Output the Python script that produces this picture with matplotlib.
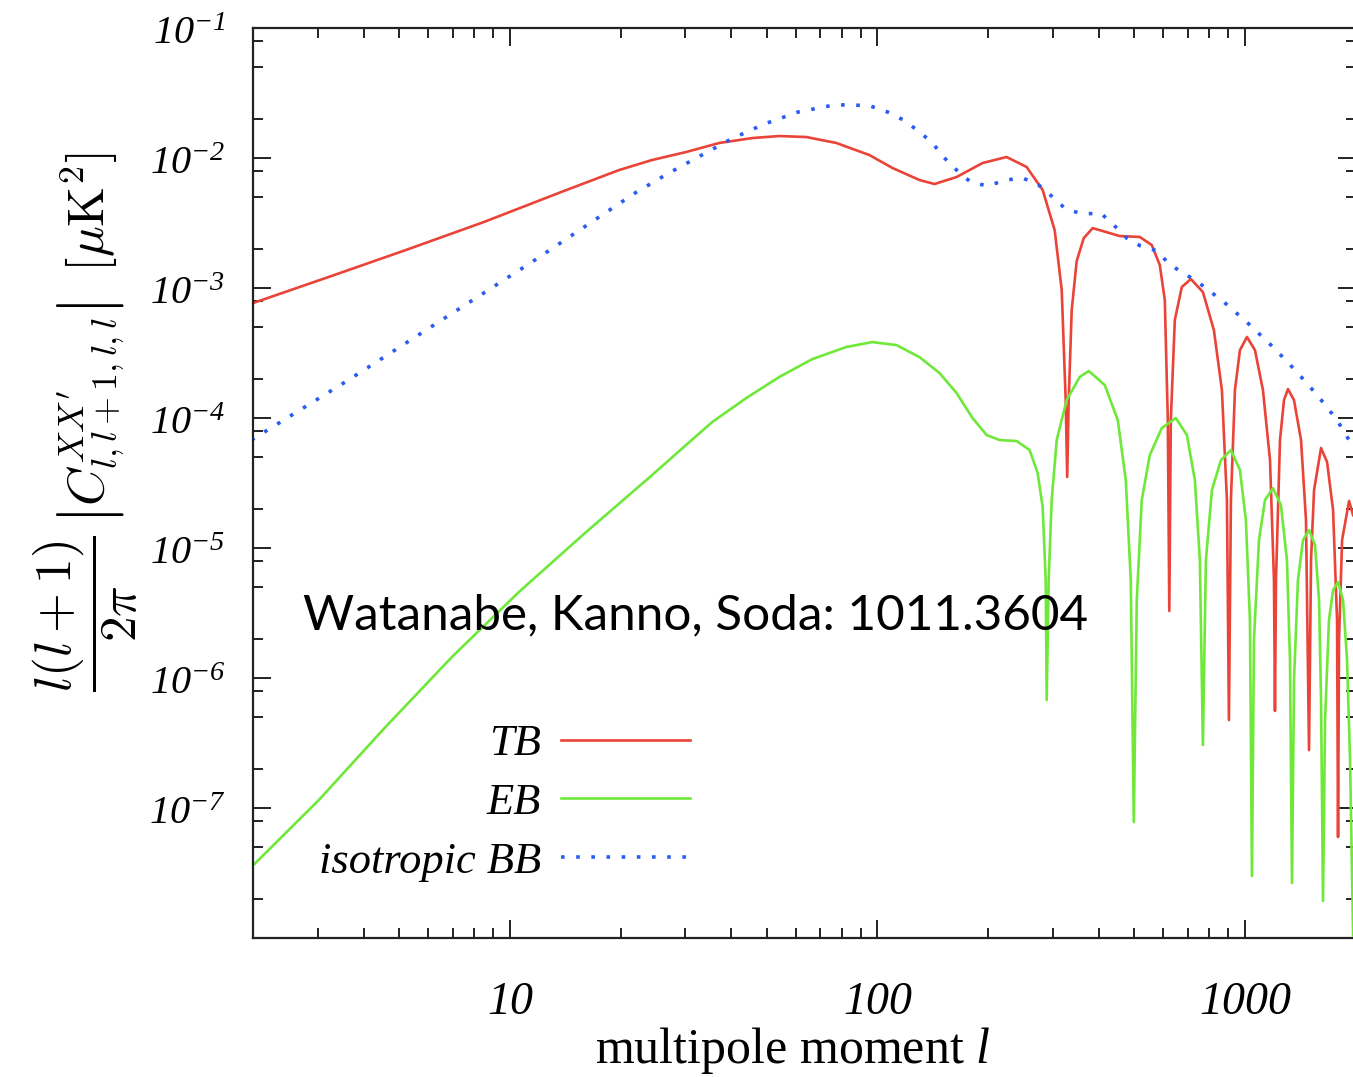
import matplotlib
matplotlib.use('Agg')
import numpy as np
import matplotlib.pyplot as plt
from matplotlib.ticker import FixedLocator, FixedFormatter, LogLocator, NullFormatter

plt.rcParams['mathtext.fontset'] = 'custom'
plt.rcParams['mathtext.rm'] = 'Liberation Serif:italic'
plt.rcParams['mathtext.it'] = 'Liberation Serif:italic'

# TB correlation (multipole l, value in muK^2)
tb_l = [2.0, 3.21, 5.21, 8.50, 13.8, 19.82, 24.37, 30.17, 37.11, 45.64, 54.08, 64.05,
        77.32, 95.1, 109.9, 130.2, 143.0, 164.2, 193.2, 224.6, 254.7, 281.6, 303.6,
        317.3, 325.3, 328.4, 331.5, 337.8, 348.5, 364.2, 385.3, 418.2, 456.4, 517.5,
        557.9, 586.6, 605.3, 616.8, 622.6, 628.5, 644.5, 673.4, 712.6, 768.5, 823.2,
        865.6, 893.3, 904.5, 915.9, 939.3, 969.2, 1012.7, 1064.8, 1119.5, 1170,
        1199.5, 1207, 1214.7, 1245.6, 1277.3, 1309.7, 1359.8, 1421, 1466, 1494, 1513,
        1542, 1611, 1673, 1737, 1781, 1792, 1803, 1838, 1920, 1969]
tb_val = [7.66e-4, 1.215e-3, 1.96e-3, 3.22e-3, 5.48e-3, 8.08e-3, 9.65e-3, 1.112e-2,
          1.305e-2, 1.424e-2, 1.476e-2, 1.45e-2, 1.305e-2, 1.054e-2, 8.38e-3, 6.77e-3,
          6.31e-3, 7.14e-3, 9.15e-3, 1.018e-2, 8.53e-3, 5.67e-3, 2.79e-3, 9.65e-4,
          1.375e-4, 3.52e-5, 1.375e-4, 6.77e-4, 1.613e-3, 2.42e-3, 2.89e-3, 2.70e-3,
          2.51e-3, 2.47e-3, 2.14e-3, 1.503e-3, 8.08e-4, 9.65e-5, 3.28e-6, 9.65e-5,
          5.67e-4, 1.018e-3, 1.173e-3, 9.31e-4, 4.75e-4, 1.641e-4, 2.34e-5, 4.75e-7,
          2.34e-5, 1.641e-4, 3.33e-4, 4.20e-4, 3.33e-4, 1.641e-4, 4.75e-5, 5.67e-6,
          5.58e-7, 5.67e-6, 6.77e-5, 1.375e-4, 1.671e-4, 1.375e-4, 6.77e-5, 1.641e-5,
          2.79e-7, 8.08e-6, 2.79e-5, 5.88e-5, 4.59e-5, 1.96e-5, 2.79e-6, 5.98e-8,
          1.96e-6, 1.152e-5, 2.30e-5, 1.79e-5]

# EB correlation
eb_l = [1.98, 3.02, 4.56, 6.95, 10.58, 16.01, 24.37, 28.88, 35.52, 43.97, 54.08,
        66.52, 82.33, 96.9, 112.7, 130.2, 147.5, 164.2, 181.5, 198.2, 215.0, 239.2,
        259.5, 272.9, 281.6, 287.0, 288.8, 292.4, 298.0, 307.5, 327.3, 355.2, 375.8,
        415.5, 450.8, 474.0, 489.1, 498.4, 507.8, 523.9, 551.0, 594.0, 648.6, 695.0,
        730.8, 754.0, 768.5, 783.1, 813.1, 860.6, 915.9, 969.2, 1006, 1031.8, 1044.9,
        1058, 1092, 1134, 1192, 1253, 1301, 1326, 1343, 1360, 1394, 1439, 1494, 1551,
        1591, 1611, 1631, 1652, 1693, 1737, 1792, 1849, 1896, 1932, 1969]
eb_val = [3.52e-8, 1.152e-7, 4.13e-7, 1.45e-6, 4.59e-6, 1.305e-5, 3.64e-5, 5.57e-5,
          9.31e-5, 1.424e-4, 2.07e-4, 2.84e-4, 3.52e-4, 3.84e-4, 3.64e-4, 2.94e-4,
          2.22e-4, 1.557e-4, 1.0e-4, 7.40e-5, 6.77e-5, 6.65e-5, 5.67e-5, 3.77e-5,
          2.07e-5, 5.67e-6, 6.77e-7, 5.67e-6, 2.34e-5, 6.77e-5, 1.375e-4, 2.07e-4,
          2.30e-4, 1.794e-4, 9.65e-5, 3.33e-5, 5.67e-6, 7.80e-8, 3.98e-6, 2.34e-5,
          5.19e-5, 8.38e-5, 1.0e-4, 7.40e-5, 3.33e-5, 8.08e-6, 3.05e-7, 8.08e-6,
          2.79e-5, 4.75e-5, 5.67e-5, 3.98e-5, 1.641e-5, 2.79e-6, 3.0e-8, 1.96e-6,
          1.152e-5, 2.34e-5, 2.89e-5, 2.14e-5, 8.08e-6, 1.375e-6, 2.65e-8, 9.65e-7,
          5.67e-6, 1.152e-5, 1.375e-5, 1.054e-5, 3.98e-6, 6.77e-7, 1.93e-8, 4.75e-7,
          2.79e-6, 4.75e-6, 5.48e-6, 3.98e-6, 1.375e-6, 2.34e-7, 1.05e-8]

# isotropic BB
bb_l = [1.98, 3.60, 6.40, 11.48, 21.9, 26.78, 32.53, 40.02, 49.22, 60.9, 76.35, 85.5,
        95.7, 106.5, 117.7, 129.3, 141.2, 151.3, 164.2, 179.2, 199.4, 223.2, 248.4,
        274.6, 299.9, 325.3, 361.9, 405.2, 439.7, 477.0, 520.8, 579.4, 620.7, 744.7,
        876.6, 1025.4, 1192, 1377, 1581, 1781, 1969]
bb_val = [6.77e-5, 1.926e-4, 5.48e-4, 1.585e-3, 5.38e-3, 7.53e-3, 1.018e-2, 1.40e-2,
          1.826e-2, 2.26e-2, 2.56e-2, 2.56e-2, 2.51e-2, 2.26e-2, 1.96e-2, 1.613e-2,
          1.305e-2, 1.018e-2, 8.08e-3, 6.54e-3, 6.09e-3, 6.77e-3, 7.02e-3, 6.20e-3,
          5.01e-3, 4.05e-3, 3.71e-3, 3.77e-3, 3.05e-3, 2.42e-3, 2.10e-3, 1.926e-3,
          1.53e-3, 1.112e-3, 7.80e-4, 5.28e-4, 3.52e-4, 2.30e-4, 1.476e-4, 9.65e-5,
          6.0e-5]

x_ticks = [10, 100, 1000]
x_ticklabels = ['10', '100', '1000']
y_ticks = [1e-7, 1e-6, 1e-5, 1e-4, 1e-3, 1e-2, 1e-1]
y_ticklabels = [r'$10^{-7}$', r'$10^{-6}$', r'$10^{-5}$', r'$10^{-4}$',
                r'$10^{-3}$', r'$10^{-2}$', r'$10^{-1}$']

fig = plt.figure(figsize=(13.53, 10.77), dpi=100)
ax = fig.add_axes([0.187, 0.129, 0.8149, 0.845])

ax.plot(tb_l, tb_val, color='#ea4338', lw=1.9, label='TB')
ax.plot(eb_l, eb_val, color='#6fe83a', lw=1.9, label='EB')
ax.plot(bb_l, bb_val, color='#2a5cf2', lw=2.6, linestyle=(0, (1, 3.2)),
        label='isotropic BB')

ax.set_xscale('log')
ax.set_yscale('log')
ax.set_xlim(2, 2000)
ax.set_ylim(1e-8, 1e-1)

# gnuplot look: inward ticks on all sides
ax.xaxis.set_major_locator(FixedLocator(x_ticks))
ax.xaxis.set_major_formatter(FixedFormatter(x_ticklabels))
ax.xaxis.set_minor_locator(LogLocator(base=10, subs=np.arange(2, 10)))
ax.xaxis.set_minor_formatter(NullFormatter())
ax.yaxis.set_major_locator(FixedLocator(y_ticks))
ax.yaxis.set_major_formatter(FixedFormatter(y_ticklabels))
ax.yaxis.set_minor_locator(LogLocator(base=10, subs=[2, 5, 8]))
ax.yaxis.set_minor_formatter(NullFormatter())
ax.tick_params(which='both', direction='in', top=True, right=True, width=1.4,
               color='#222222')
ax.tick_params(which='major', length=13)
ax.tick_params(which='minor', length=7)
ax.tick_params(axis='x', which='major', pad=31, labelsize=33)
ax.tick_params(axis='y', which='major', pad=20, labelsize=29)
for lab in ax.get_xticklabels():
    lab.set_fontfamily('Liberation Serif')
    lab.set_fontstyle('italic')
for s in ax.spines.values():
    s.set_linewidth(1.6)
    s.set_color('#222222')

fig.text(793 / 1353, 1 - 1050 / 1077, r'multipole moment $l$',
         ha='center', va='center', fontsize=36, family='Liberation Serif')
fig.text(85 / 1353, 1 - 422 / 1077,
         r'$\dfrac{l(l+1)}{2\pi}\,\left|C^{XX^{\prime}}_{l,l+1,l,l}\right|\;\;[\mu\mathrm{K}^2]$',
         rotation=90, ha='center', va='center', fontsize=37, math_fontfamily='cm')

fig.text(303 / 1353, 1 - 615 / 1077, 'Watanabe, Kanno, Soda: 1011.3604',
         ha='left', va='center', fontsize=35.6, family='Lato')

ax.legend(loc='upper right', bbox_to_anchor=(690 / 1353, 1 - 724 / 1077),
          bbox_transform=fig.transFigure, frameon=False, markerfirst=False,
          handlelength=2.9, handletextpad=0.45, labelspacing=0.42, borderpad=0,
          borderaxespad=0,
          prop={'family': 'Liberation Serif', 'style': 'italic', 'size': 32})

fig.savefig('out.png', dpi=100)
